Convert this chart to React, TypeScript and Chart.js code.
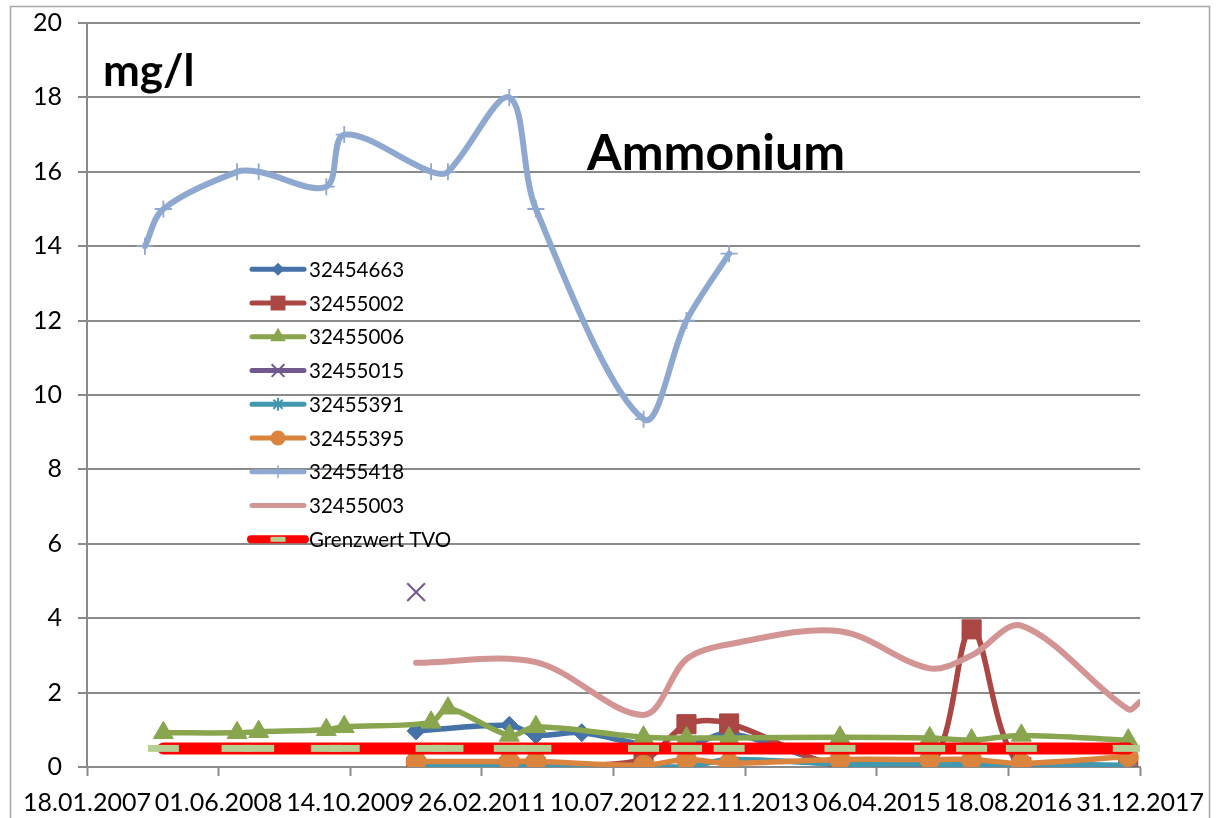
import React, { useEffect, useRef } from 'react';
import { Chart, registerables } from 'chart.js';

Chart.register(...registerables);

// ---------- axis settings ----------
const BASE_DATE = '2007-01-18';
const X_MAX_DATE = '2017-12-31';
const X_STEP_DAYS = 500;
const Y_MIN = 0;
const Y_MAX = 20;
const Y_STEP = 2;

const TITLE = 'Ammonium';
const UNIT_LABEL = 'mg/l';

// ---------- data ----------
const names = ['32454663', '32455002', '32455006', '32455015', '32455391', '32455395', '32455418', '32455003', 'Grenzwert TVO'];

const dates32454663 = ['2010-06-21', '2011-06-10', '2011-09-19', '2012-03-11', '2012-11-01', '2013-04-13', '2013-09-22', '2014-11-17', '2015-10-24', '2016-03-31', '2016-10-06', '2017-11-16'];
const values32454663 = [0.97, 1.12, 0.86, 0.92, 0.6, 0.55, 0.9, 0.05, 0.05, 0.05, 0.05, 0.02];

const dates32455002 = ['2010-06-21', '2011-06-10', '2011-09-19', '2012-11-01', '2013-04-13', '2013-09-22', '2014-11-17', '2015-10-24', '2016-03-31', '2016-10-06', '2017-11-16'];
const values32455002 = [0, 0, 0, 0.2, 1.15, 1.17, 0, 0, 3.7, 0, 0];

const dates32455006 = ['2007-11-04', '2008-08-10', '2008-10-31', '2009-07-15', '2009-09-21', '2010-08-17', '2010-10-20', '2011-06-10', '2011-09-19', '2012-11-01', '2013-04-13', '2013-09-22', '2014-11-17', '2015-10-24', '2016-03-31', '2016-10-06', '2017-11-16'];
const values32455006 = [0.92, 0.92, 0.95, 1.0, 1.08, 1.2, 1.58, 0.85, 1.08, 0.8, 0.78, 0.78, 0.8, 0.78, 0.72, 0.85, 0.72];

const dates32455015 = ['2010-06-21'];
const values32455015 = [4.7];

const dates32455391 = ['2010-06-21', '2011-06-10', '2011-09-19', '2012-11-01', '2013-04-13', '2013-09-22', '2014-11-17', '2015-10-24', '2016-03-31', '2016-10-06', '2017-11-16'];
const values32455391 = [0.02, 0, 0, 0.02, 0, 0.2, 0.08, 0.08, 0.05, 0.08, 0.05];

const dates32455395 = ['2010-06-21', '2011-06-10', '2011-09-19', '2012-11-01', '2013-04-13', '2013-09-22', '2014-11-17', '2015-10-24', '2016-03-31', '2016-10-06', '2017-11-16'];
const values32455395 = [0.15, 0.15, 0.15, 0.05, 0.2, 0.1, 0.2, 0.2, 0.2, 0.1, 0.28];

const dates32455418 = ['2007-08-26', '2007-11-04', '2008-08-10', '2008-10-31', '2009-07-15', '2009-09-21', '2010-08-17', '2010-10-20', '2011-06-10', '2011-09-19', '2012-11-01', '2013-04-13', '2013-09-22'];
const values32455418 = [14, 15, 16, 16, 15.6, 17, 16, 16, 18, 15, 9.35, 12, 13.8];

const dates32455003 = ['2010-06-21', '2011-09-19', '2012-11-01', '2013-04-13', '2013-09-22', '2014-11-17', '2015-10-24', '2016-03-31', '2016-10-06', '2017-11-16', '2017-12-31'];
const values32455003 = [2.8, 2.82, 1.4, 2.9, 3.3, 3.65, 2.65, 3.0, 3.8, 1.55, 1.75];

const datesGrenzwert = dates32455006;
const valuesGrenzwert = [0.5, 0.5, 0.5, 0.5, 0.5, 0.5, 0.5, 0.5, 0.5, 0.5, 0.5, 0.5, 0.5, 0.5, 0.5, 0.5, 0.5];

const allDates = [dates32454663, dates32455002, dates32455006, dates32455015, dates32455391, dates32455395, dates32455418, dates32455003, datesGrenzwert];
const allValues = [values32454663, values32455002, values32455006, values32455015, values32455391, values32455395, values32455418, values32455003, valuesGrenzwert];

// ---------- styles ----------
const colors = ['#4572A7', '#AA4643', '#89A54E', '#71588F', '#4198AF', '#DB843D', '#8FA8D0', '#D39594', '#FF0000'];
const pointStyles = ['rectRot', 'rect', 'triangle', 'crossRot', 'star', 'circle', 'cross', 'circle', 'line'];
const pointRadii = [9, 13.5, 11.5, 12.5, 8.5, 10, 8.5, 0, 15.5];
const pointBorderWidths = [1, 1, 1, 2, 2, 1, 1.8, 0, 7];
const lineWidths = [5.5, 5.5, 5.5, 5, 5.5, 5.5, 6, 6, 12];
const legendRadii = [6.5, 10.5, 9, 9, 6.5, 7.5, 6.5, 0, 7.5];
const GRENZ_MARKER = '#B6CE92';

const DAY_MS = 86400000;
function toUTC(s: string) {
  const [y, m, d] = s.split('-').map(Number);
  return Date.UTC(y, m - 1, d);
}
const BASE_MS = toUTC(BASE_DATE);
function dayOffset(s: string) {
  return Math.round((toUTC(s) - BASE_MS) / DAY_MS);
}
function fmt(v: number) {
  const d = new Date(BASE_MS + Math.round(v) * DAY_MS);
  const dd = String(d.getUTCDate()).padStart(2, '0');
  const mm = String(d.getUTCMonth() + 1).padStart(2, '0');
  return `${dd}.${mm}.${d.getUTCFullYear()}`;
}

function drawMarker(ctx: CanvasRenderingContext2D, style: string, x: number, y: number, r: number, color: string, lw: number) {
  if (r <= 0) return;
  ctx.save();
  ctx.fillStyle = color;
  ctx.strokeStyle = color;
  ctx.lineWidth = lw;
  ctx.lineCap = 'butt';
  ctx.beginPath();
  const o = r * Math.SQRT1_2;
  switch (style) {
    case 'rectRot':
      ctx.moveTo(x - r, y); ctx.lineTo(x, y - r); ctx.lineTo(x + r, y); ctx.lineTo(x, y + r); ctx.closePath(); ctx.fill();
      break;
    case 'rect':
      ctx.rect(x - o, y - o, 2 * o, 2 * o); ctx.fill();
      break;
    case 'triangle':
      ctx.moveTo(x, y - r); ctx.lineTo(x + r * 0.866, y + r / 2); ctx.lineTo(x - r * 0.866, y + r / 2); ctx.closePath(); ctx.fill();
      break;
    case 'crossRot':
      ctx.moveTo(x - o, y - o); ctx.lineTo(x + o, y + o); ctx.moveTo(x + o, y - o); ctx.lineTo(x - o, y + o); ctx.stroke();
      break;
    case 'star':
      ctx.moveTo(x - o, y - o); ctx.lineTo(x + o, y + o); ctx.moveTo(x + o, y - o); ctx.lineTo(x - o, y + o);
      ctx.moveTo(x, y - r); ctx.lineTo(x, y + r); ctx.moveTo(x - r, y); ctx.lineTo(x + r, y); ctx.stroke();
      break;
    case 'circle':
      ctx.arc(x, y, r, 0, Math.PI * 2); ctx.fill();
      break;
    case 'cross':
      ctx.moveTo(x, y - r); ctx.lineTo(x, y + r); ctx.moveTo(x - r, y); ctx.lineTo(x + r, y); ctx.stroke();
      break;
    case 'line':
      ctx.moveTo(x - r, y); ctx.lineTo(x + r, y); ctx.stroke();
      break;
  }
  ctx.restore();
}

const overlayPlugin = {
  id: 'overlay',
  afterDraw(chart: any) {
    const ctx: CanvasRenderingContext2D = chart.ctx;
    ctx.save();
    // outer chart border
    ctx.strokeStyle = '#a6a6a6';
    ctx.lineWidth = 1.5;
    ctx.strokeRect(10.5, 6.5, 1199, 840);
    // titles
    ctx.fillStyle = '#000';
    ctx.textBaseline = 'alphabetic';
    ctx.textAlign = 'left';
    ctx.font = 'bold 44px Lato';
    ctx.fillText(UNIT_LABEL, 103, 86);
    ctx.font = 'bold 50px Lato';
    ctx.fillText(TITLE, 587, 170);
    // legend
    const startY = 269.3;
    const gap = 33.75;
    names.forEach((name, i) => {
      const y = startY + i * gap;
      const isG = i === names.length - 1;
      ctx.save();
      ctx.strokeStyle = colors[i];
      ctx.lineWidth = isG ? 8 : 5;
      ctx.lineCap = 'round';
      ctx.beginPath();
      ctx.moveTo(isG ? 251 : 252, y);
      ctx.lineTo(isG ? 305 : 304, y);
      ctx.stroke();
      ctx.restore();
      if (isG) {
        drawMarker(ctx, 'line', 278, y, legendRadii[i], GRENZ_MARKER, 5);
      } else {
        drawMarker(ctx, pointStyles[i], 278, y, legendRadii[i], colors[i], pointStyles[i] === 'crossRot' || pointStyles[i] === 'star' ? 2 : 1.5);
      }
      ctx.fillStyle = '#000';
      ctx.font = '20.5px Lato';
      ctx.textBaseline = 'middle';
      ctx.fillText(name, 309, y + 1);
    });
    ctx.restore();
  },
};

export default function App() {
  const ref = useRef<HTMLCanvasElement | null>(null);

  useEffect(() => {
    document.body.style.margin = '0';
    if (!ref.current) return;
    const n = names.length;
    const datasets = names.map((name, i) => {
      const isG = i === n - 1;
      return {
        label: name,
        data: allDates[i].map((d, j) => ({ x: dayOffset(d), y: allValues[i][j] })),
        borderColor: colors[i],
        backgroundColor: colors[i],
        borderWidth: lineWidths[i],
        tension: isG ? 0 : 0.33,
        borderCapStyle: 'round',
        borderJoinStyle: 'round',
        pointStyle: pointStyles[i],
        pointRadius: pointRadii[i],
        pointHoverRadius: pointRadii[i],
        pointBorderWidth: pointBorderWidths[i],
        pointBackgroundColor: isG ? GRENZ_MARKER : colors[i],
        pointBorderColor: isG ? GRENZ_MARKER : colors[i],
        order: n - 1 - i,
        fill: false,
      };
    });

    const chart = new Chart(ref.current, {
      type: 'line',
      data: { datasets: datasets as any },
      options: {
        animation: false,
        responsive: false,
        maintainAspectRatio: false,
        devicePixelRatio: 1,
        events: [],
        layout: { padding: { left: 0, top: 23, right: 73, bottom: 0 } },
        plugins: {
          legend: { display: false },
          tooltip: { enabled: false },
          title: { display: false },
        },
        scales: {
          x: {
            type: 'linear',
            min: 0,
            max: dayOffset(X_MAX_DATE),
            ticks: {
              stepSize: X_STEP_DAYS,
              callback: (v: any) => fmt(Number(v)),
              font: { family: 'Lato', size: 25 },
              color: '#000',
              padding: 12,
              maxRotation: 0,
              minRotation: 0,
              autoSkip: false,
            },
            grid: {
              drawOnChartArea: false,
              drawTicks: true,
              tickLength: 9,
              tickColor: '#8a8a8a',
              tickWidth: 2,
            },
            border: { display: true, color: '#8a8a8a', width: 2 },
            afterFit: (s: any) => { s.height = 51; },
          },
          y: {
            type: 'linear',
            min: Y_MIN,
            max: Y_MAX,
            ticks: {
              stepSize: Y_STEP,
              font: { family: 'Lato', size: 25, lineHeight: 0.5 },
              color: '#000',
              padding: 16,
            },
            grid: {
              color: '#8a8a8a',
              lineWidth: 2,
              drawTicks: true,
              tickLength: 9,
              tickColor: '#8a8a8a',
              tickWidth: 2,
            },
            border: { display: true, color: '#8a8a8a', width: 2 },
            afterFit: (s: any) => { s.width = 87; },
          },
        },
      } as any,
      plugins: [overlayPlugin],
    });
    return () => chart.destroy();
  }, []);

  return (
    <div style={{ width: 1216, height: 818, background: '#fff' }}>
      <canvas ref={ref} width={1216} height={818} style={{ display: 'block', width: 1216, height: 818 }} />
    </div>
  );
}
